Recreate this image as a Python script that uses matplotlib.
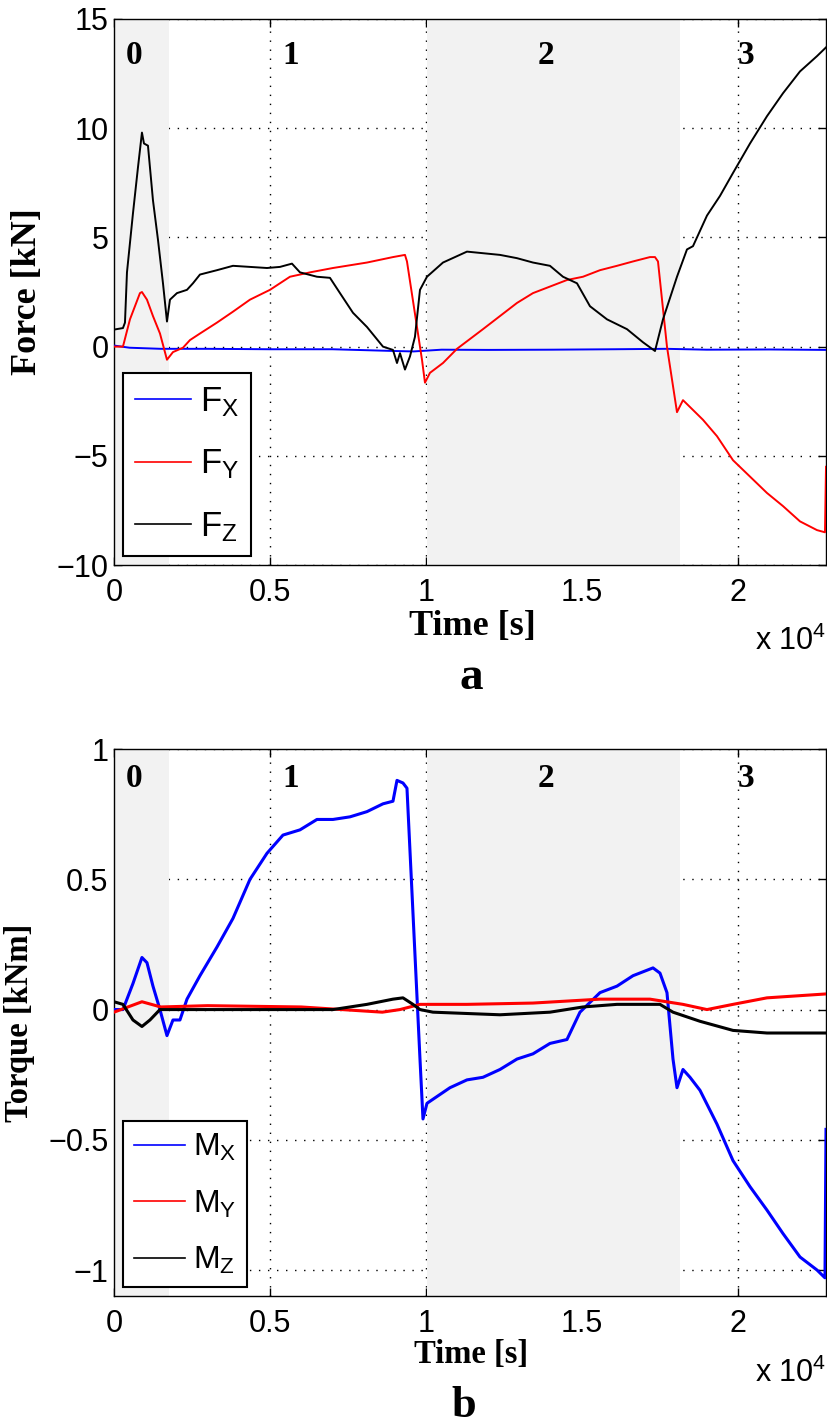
import numpy as np
import matplotlib
matplotlib.use('Agg')
import matplotlib.pyplot as plt
from matplotlib.ticker import FuncFormatter, MultipleLocator

plt.rcParams['font.family'] = ['Liberation Sans', 'DejaVu Sans']
plt.rcParams['axes.unicode_minus'] = True

# ---- panel a: forces [kN] ----
t_fx = [0, 500, 1500, 3000, 5000, 7000, 9000, 9600, 10500, 12000, 14000, 16000, 17700, 19000, 21000, 22821]
fx = [0.05, -0.05, -0.1, -0.1, -0.12, -0.12, -0.2, -0.22, -0.14, -0.15, -0.14, -0.12, -0.1, -0.14, -0.13, -0.15]

t_fy = [0, 288, 513, 833, 897, 1058, 1250, 1475, 1699, 1891, 2212, 2436, 2756, 3301, 3814,
        4359, 5000, 5641, 6282, 7019, 8109, 8942, 9327, 9391, 9872, 9968, 10128, 10545, 10994,
        11827, 12372, 12917, 13429, 13974, 14519, 15032, 15577, 16122, 16635, 17179,
        17340, 17436, 17724, 18045, 18237, 18558, 18878, 19327, 19840, 20385, 20929, 21442,
        21987, 22532, 22788, 22821]
fy = [0.0, 0.0, 1.25, 2.45, 2.5, 2.15, 1.4, 0.6, -0.6, -0.25, -0.05, 0.3, 0.6, 1.1, 1.6,
      2.15, 2.6, 3.2, 3.4, 3.6, 3.85, 4.1, 4.2, 3.9, -0.6, -1.65, -1.2, -0.75, -0.1,
      0.8, 1.4, 2.0, 2.45, 2.75, 3.05, 3.2, 3.5, 3.7, 3.9, 4.1,
      4.1, 3.9, 0.0, -3.0, -2.45, -2.9, -3.35, -4.1, -5.2, -5.95, -6.7, -7.3,
      -8.0, -8.4, -8.5, -5.5]

t_fz = [0, 288, 353, 417, 609, 769, 897, 962, 1090, 1250, 1410, 1571, 1699, 1795, 2019, 2340,
        2532, 2756, 3301, 3814, 4904, 5321, 5705, 5962, 6506, 6923, 7244, 7660, 8109, 8622,
        8942, 9071, 9167, 9327, 9487, 9647, 9808, 10032, 10545, 11314, 12372, 12917, 13429,
        13974, 14391, 14840, 15256, 15801, 16442, 16955, 17340, 17596, 18045, 18365, 18558,
        19006, 19423, 19840, 20385, 20929, 21442, 21987, 22532, 22821]
fz = [0.78, 0.85, 1.1, 3.4, 6.1, 8.2, 9.8, 9.3, 9.2, 6.7, 4.9, 2.9, 1.15, 2.15, 2.45, 2.6,
      2.9, 3.3, 3.5, 3.7, 3.6, 3.65, 3.8, 3.4, 3.2, 3.15, 2.45, 1.55, 0.9, 0.0,
      -0.15, -0.75, -0.3, -1.05, -0.45, 0.45, 2.6, 3.2, 3.85, 4.35, 4.2, 4.05, 3.85,
      3.7, 3.2, 2.9, 1.85, 1.25, 0.8, 0.2, -0.2, 1.25, 3.2, 4.45, 4.6,
      6.0, 6.9, 7.95, 9.3, 10.55, 11.6, 12.6, 13.3, 13.7]

# ---- panel b: torques [kNm] ----
t_mx = [0, 288, 609, 897, 1058, 1250, 1474, 1699, 1891, 2115, 2340, 2756, 3301, 3814, 4359,
        4904, 5417, 5962, 6506, 7019, 7564, 8109, 8622, 8942, 9071, 9263, 9391, 9808, 9904,
        10032, 10769, 11314, 11827, 12372, 12917, 13429, 13974, 14519, 14936, 15577, 16122,
        16635, 17276, 17500, 17724, 17917, 18045, 18237, 18462, 18782, 19327, 19840, 20385,
        20929, 21442, 21987, 22532, 22788, 22821]
mx = [0.0, 0.0, 0.1, 0.2, 0.18, 0.09, 0.0, -0.1, -0.04, -0.04, 0.04, 0.13, 0.24, 0.35, 0.5,
      0.6, 0.67, 0.69, 0.73, 0.73, 0.74, 0.76, 0.79, 0.8, 0.88, 0.87, 0.85, -0.19, -0.42,
      -0.36, -0.3, -0.27, -0.26, -0.23, -0.19, -0.17, -0.13, -0.115, -0.01, 0.065, 0.09,
      0.13, 0.16, 0.14, 0.065, -0.19, -0.3, -0.23, -0.26, -0.31, -0.44, -0.58, -0.68,
      -0.77, -0.86, -0.95, -1.0, -1.03, -0.46]

t_my = [0, 897, 1500, 3000, 6000, 8600, 9167, 9808, 11314, 13429, 15577, 17179, 18237,
        19006, 19840, 20929, 22821]
my = [-0.01, 0.03, 0.01, 0.015, 0.01, -0.01, 0.0, 0.02, 0.02, 0.025, 0.04, 0.04, 0.02,
      0.0, 0.02, 0.045, 0.06]

t_mz = [0, 288, 609, 897, 1154, 1474, 7019, 8109, 8942, 9263, 9583, 9808, 10224, 12372,
        13974, 15032, 16122, 17500, 17917, 18782, 19840, 20929, 22821]
mz = [0.03, 0.02, -0.04, -0.065, -0.04, 0.0, 0.0, 0.02, 0.04, 0.045, 0.02, 0.0, -0.01, -0.02,
      -0.01, 0.01, 0.02, 0.02, -0.01, -0.045, -0.08, -0.09, -0.09]

# phases
phase_names = ['0', '1', '2', '3']
phase_t = [641, 5673, 13846, 20256]
shaded = [(0, 1763), (10032, 18141)]
t_end = 22821

serif = 'Liberation Serif'


def xfmt(v, pos):
    return f'{v / 1e4:g}'


def yfmt(v, pos):
    return f'{v:g}'.replace('-', '\u2212')


def panel(ax, series, ylim, ystep, ylabel, lab_size, phase_y, leg_size, leg_sp, leg_pad, lw):
    for a, b in shaded:
        ax.axvspan(a, b, color='#f2f2f2', lw=0, zorder=1)
    for t, v, c, lab in series:
        ax.plot(t, v, color=c, lw=lw, label=lab, zorder=3)
    ax.set_xlim(0, t_end)
    ax.set_ylim(*ylim)
    ax.xaxis.set_major_locator(MultipleLocator(5000))
    ax.yaxis.set_major_locator(MultipleLocator(ystep))
    ax.xaxis.set_major_formatter(FuncFormatter(xfmt))
    ax.yaxis.set_major_formatter(FuncFormatter(yfmt))
    ax.set_axisbelow(True)
    ax.grid(True, color='k', ls=(0, (1, 5.5)), lw=1.0)
    ax.tick_params(direction='in', top=True, right=True, length=6, width=1,
                   labelsize=22)
    ax.tick_params(axis='y', pad=4)
    ax.tick_params(axis='x', pad=9)
    for s in ax.spines.values():
        s.set_linewidth(1.0)
    ax.set_ylabel(ylabel, fontsize=lab_size, family=serif, weight='bold', va='center')
    for name, t in zip(phase_names, phase_t):
        ax.text(t, phase_y, name, transform=ax.get_xaxis_transform(), ha='center',
                va='center', fontsize=24, family=serif, weight='bold', zorder=4)
    leg = ax.legend(loc='lower left', bbox_to_anchor=(0.0126, 0.0165), borderaxespad=0,
                    fancybox=False, framealpha=1, edgecolor='k', fontsize=leg_size,
                    handlelength=1.6, handletextpad=0.25, labelspacing=leg_sp,
                    borderpad=leg_pad)
    leg.get_frame().set_linewidth(1.5)
    for line in leg.get_lines():
        line.set_linewidth(1.2)
    return ax


fig = plt.figure(figsize=(8.27, 14.28), dpi=100)
ax1 = fig.add_axes([0.1378, 0.6043, 0.861, 0.3824])
ax2 = fig.add_axes([0.1378, 0.0924, 0.861, 0.383])

panel(ax1, [(t_fx, fx, '#0000ff', r'$\mathregular{F_X}$'),
            (t_fy, fy, '#ff0000', r'$\mathregular{F_Y}$'),
            (t_fz, fz, 'k', r'$\mathregular{F_Z}$')],
      (-10, 15), 5, 'Force [kN]', 26, 0.934, 25, 0.82, 0.36, 1.4)
panel(ax2, [(t_mx, mx, '#0000ff', r'$\mathregular{M_X}$'),
            (t_my, my, '#ff0000', r'$\mathregular{M_Y}$'),
            (t_mz, mz, 'k', r'$\mathregular{M_Z}$')],
      (-1.1, 1), 0.5, 'Torque [kNm]', 23.5, 0.947, 23, 0.8, 0.34, 2.2)

ax1.yaxis.set_label_coords(-0.122, 0.5)
ax2.yaxis.set_label_coords(-0.132, 0.5)

W, H = 827, 1428
fig.text(472 / W, 1 - 635 / H, 'Time [s]', ha='center', va='baseline', fontsize=26,
         family=serif, weight='bold')
fig.text(471 / W, 1 - 1363 / H, 'Time [s]', ha='center', va='baseline', fontsize=23.5,
         family=serif, weight='bold')
fig.text(826 / W, 1 - 650 / H, r'x $\mathregular{10^4}$', ha='right', va='baseline',
         fontsize=22)
fig.text(826 / W, 1 - 1382 / H, r'x $\mathregular{10^4}$', ha='right', va='baseline',
         fontsize=22)
fig.text(471 / W, 1 - 689 / H, 'a', ha='center', va='baseline', fontsize=34,
         family=serif, weight='bold')
fig.text(464 / W, 1 - 1417 / H, 'b', ha='center', va='baseline', fontsize=32,
         family=serif, weight='bold')

fig.savefig('out.png', dpi=100)
